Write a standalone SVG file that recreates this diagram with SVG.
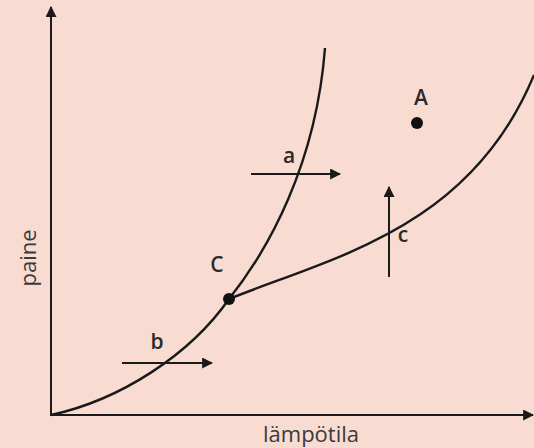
<svg xmlns="http://www.w3.org/2000/svg" width="534" height="448" viewBox="0 0 534 448">
<style>
.ln{fill:none;stroke:#1a1a1a;stroke-width:2}
.cv{fill:none;stroke:#1a1a1a;stroke-width:2.4}
.lb{font-family:"Open Sans","Liberation Sans",sans-serif;font-size:21px;font-weight:600;fill:#2a2a2a;text-anchor:middle}
.ax{font-family:"Open Sans","Liberation Sans",sans-serif;font-size:22px;fill:#3a3a3a;text-anchor:middle}
</style>
<defs>
<marker id="ah" viewBox="0 0 10 10" refX="9" refY="5" markerWidth="11" markerHeight="11" markerUnits="userSpaceOnUse" orient="auto">
<path d="M0,0 L10,5 L0,10 z" fill="#1a1a1a"/>
</marker>
</defs>
<rect width="534" height="448" fill="#f8dcd2"/>
<g id="axes">
<line class="ln" x1="51" y1="416" x2="51" y2="7" marker-end="url(#ah)"/>
<line class="ln" x1="50" y1="415" x2="533" y2="415" marker-end="url(#ah)"/>
<text class="ax" x="311" y="442">lämpötila</text>
<text class="ax" transform="translate(36,258) rotate(-90)">paine</text>
</g>
<g id="curves">
<path class="cv" d="M51,415 C120,400 190,355 229,299 C268,250 316,165 325,48"/>
<path class="cv" d="M229,299 C330,258 470,230 534,75"/>
</g>
<g id="connectors">
<line class="ln" x1="122" y1="363" x2="212" y2="363" marker-end="url(#ah)"/>
<line class="ln" x1="251" y1="174" x2="340" y2="174" marker-end="url(#ah)"/>
<line class="ln" x1="389" y1="277" x2="389" y2="187" marker-end="url(#ah)"/>
</g>
<g id="C"><circle cx="229" cy="299" r="6" fill="#111"/><text class="lb" x="217" y="272">C</text></g>
<g id="A"><circle cx="417" cy="123" r="6" fill="#111"/><text class="lb" x="421" y="105">A</text></g>
<g id="a"><text class="lb" x="289" y="163">a</text></g>
<g id="b"><text class="lb" x="157" y="349">b</text></g>
<g id="c"><text class="lb" x="403" y="242">c</text></g>
</svg>
